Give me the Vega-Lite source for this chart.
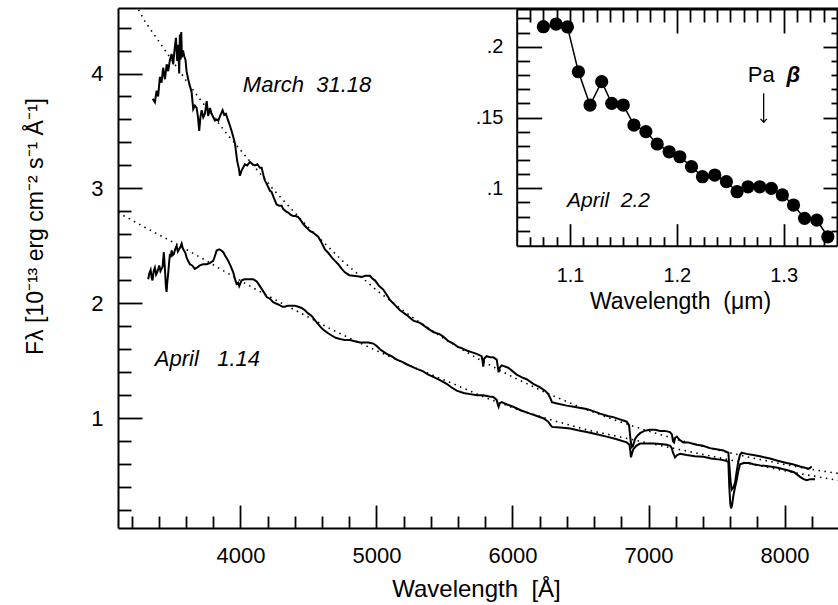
{
"$schema":"https://vega.github.io/schema/vega-lite/v6.json",
"width":720,"height":520,
"autosize":{"type":"none"},
"padding":{"left":118,"top":8,"right":0,"bottom":77},
"background":"white",
"config":{"view":{"stroke":null},"font":"Liberation Sans",
"axis":{"labelFont":"Liberation Sans","titleFont":"Liberation Sans","labelColor":"black","titleColor":"black","domainColor":"black","tickColor":"black","domainWidth":2,"tickWidth":1.8,"grid":false,"labelOverlap":false,"labelFlush":false},
"text":{"font":"Liberation Sans","color":"black"}},
"layer":[
{"data":{"values":[
{"s":"M","w":3355,"f":3.78},{"s":"M","w":3371,"f":3.75},{"s":"M","w":3384,"f":3.85},{"s":"M","w":3395,"f":3.80},{"s":"M","w":3408,"f":3.97},{"s":"M","w":3420,"f":3.92},{"s":"M","w":3432,"f":4.05},{"s":"M","w":3445,"f":3.95},{"s":"M","w":3458,"f":4.08},{"s":"M","w":3469,"f":4.02},{"s":"M","w":3482,"f":4.12},{"s":"M","w":3494,"f":4.17},{"s":"M","w":3506,"f":4.08},{"s":"M","w":3515,"f":4.20},{"s":"M","w":3526,"f":4.31},{"s":"M","w":3535,"f":4.11},{"s":"M","w":3542,"f":4.25},{"s":"M","w":3550,"f":4.00},{"s":"M","w":3555,"f":4.34},{"s":"M","w":3560,"f":4.12},{"s":"M","w":3565,"f":4.36},{"s":"M","w":3570,"f":4.14},{"s":"M","w":3578,"f":4.20},{"s":"M","w":3587,"f":4.15},{"s":"M","w":3596,"f":4.12},{"s":"M","w":3604,"f":4.02},{"s":"M","w":3616,"f":3.95},{"s":"M","w":3629,"f":3.89},{"s":"M","w":3641,"f":3.84},{"s":"M","w":3653,"f":3.69},{"s":"M","w":3665,"f":3.72},{"s":"M","w":3678,"f":3.70},{"s":"M","w":3688,"f":3.62},{"s":"M","w":3697,"f":3.50},{"s":"M","w":3706,"f":3.62},{"s":"M","w":3715,"f":3.68},{"s":"M","w":3727,"f":3.62},{"s":"M","w":3739,"f":3.65},{"s":"M","w":3752,"f":3.76},{"s":"M","w":3763,"f":3.63},{"s":"M","w":3776,"f":3.70},{"s":"M","w":3788,"f":3.65},{"s":"M","w":3800,"f":3.62},{"s":"M","w":3812,"f":3.59},{"s":"M","w":3825,"f":3.60},{"s":"M","w":3837,"f":3.59},{"s":"M","w":3850,"f":3.63},{"s":"M","w":3869,"f":3.68},{"s":"M","w":3881,"f":3.64},{"s":"M","w":3893,"f":3.65},{"s":"M","w":3910,"f":3.59},{"s":"M","w":3922,"f":3.55},{"s":"M","w":3935,"f":3.50},{"s":"M","w":3947,"f":3.45},{"s":"M","w":3960,"f":3.39},{"s":"M","w":3976,"f":3.24},{"s":"M","w":3989,"f":3.17},{"s":"M","w":3996,"f":3.11},{"s":"M","w":4010,"f":3.16},{"s":"M","w":4033,"f":3.21},{"s":"M","w":4050,"f":3.20},{"s":"M","w":4070,"f":3.23},{"s":"M","w":4090,"f":3.21},{"s":"M","w":4107,"f":3.20},{"s":"M","w":4125,"f":3.21},{"s":"M","w":4143,"f":3.18},{"s":"M","w":4156,"f":3.18},{"s":"M","w":4170,"f":3.11},{"s":"M","w":4180,"f":3.07},{"s":"M","w":4193,"f":3.04},{"s":"M","w":4217,"f":2.98},{"s":"M","w":4229,"f":2.97},{"s":"M","w":4245,"f":2.92},{"s":"M","w":4266,"f":2.86},{"s":"M","w":4285,"f":2.85},{"s":"M","w":4303,"f":2.85},{"s":"M","w":4315,"f":2.82},{"s":"M","w":4335,"f":2.80},{"s":"M","w":4351,"f":2.79},{"s":"M","w":4370,"f":2.77},{"s":"M","w":4388,"f":2.76},{"s":"M","w":4405,"f":2.76},{"s":"M","w":4425,"f":2.75},{"s":"M","w":4445,"f":2.72},{"s":"M","w":4462,"f":2.69},{"s":"M","w":4485,"f":2.66},{"s":"M","w":4511,"f":2.63},{"s":"M","w":4540,"f":2.61},{"s":"M","w":4572,"f":2.58},{"s":"M","w":4600,"f":2.52},{"s":"M","w":4621,"f":2.47},{"s":"M","w":4645,"f":2.44},{"s":"M","w":4671,"f":2.40},{"s":"M","w":4695,"f":2.37},{"s":"M","w":4719,"f":2.34},{"s":"M","w":4745,"f":2.30},{"s":"M","w":4768,"f":2.27},{"s":"M","w":4800,"f":2.245},{"s":"M","w":4829,"f":2.24},{"s":"M","w":4860,"f":2.235},{"s":"M","w":4891,"f":2.23},{"s":"M","w":4920,"f":2.24},{"s":"M","w":4952,"f":2.24},{"s":"M","w":4975,"f":2.21},{"s":"M","w":4989,"f":2.20},{"s":"M","w":5020,"f":2.15},{"s":"M","w":5050,"f":2.12},{"s":"M","w":5099,"f":2.03},{"s":"M","w":5140,"f":1.98},{"s":"M","w":5173,"f":1.94},{"s":"M","w":5220,"f":1.90},{"s":"M","w":5271,"f":1.85},{"s":"M","w":5320,"f":1.83},{"s":"M","w":5344,"f":1.81},{"s":"M","w":5380,"f":1.78},{"s":"M","w":5418,"f":1.75},{"s":"M","w":5467,"f":1.73},{"s":"M","w":5491,"f":1.71},{"s":"M","w":5530,"f":1.67},{"s":"M","w":5565,"f":1.65},{"s":"M","w":5600,"f":1.62},{"s":"M","w":5626,"f":1.61},{"s":"M","w":5663,"f":1.59},{"s":"M","w":5688,"f":1.58},{"s":"M","w":5737,"f":1.56},{"s":"M","w":5773,"f":1.54},{"s":"M","w":5780,"f":1.50},{"s":"M","w":5785,"f":1.45},{"s":"M","w":5792,"f":1.52},{"s":"M","w":5810,"f":1.54},{"s":"M","w":5840,"f":1.53},{"s":"M","w":5859,"f":1.53},{"s":"M","w":5884,"f":1.51},{"s":"M","w":5892,"f":1.45},{"s":"M","w":5898,"f":1.40},{"s":"M","w":5906,"f":1.44},{"s":"M","w":5921,"f":1.46},{"s":"M","w":5969,"f":1.44},{"s":"M","w":6031,"f":1.38},{"s":"M","w":6080,"f":1.35},{"s":"M","w":6104,"f":1.34},{"s":"M","w":6153,"f":1.30},{"s":"M","w":6200,"f":1.27},{"s":"M","w":6239,"f":1.24},{"s":"M","w":6263,"f":1.21},{"s":"M","w":6280,"f":1.17},{"s":"M","w":6290,"f":1.14},{"s":"M","w":6320,"f":1.13},{"s":"M","w":6398,"f":1.11},{"s":"M","w":6450,"f":1.10},{"s":"M","w":6500,"f":1.09},{"s":"M","w":6545,"f":1.08},{"s":"M","w":6600,"f":1.06},{"s":"M","w":6643,"f":1.04},{"s":"M","w":6700,"f":1.02},{"s":"M","w":6741,"f":1.01},{"s":"M","w":6790,"f":0.99},{"s":"M","w":6840,"f":0.97},{"s":"M","w":6857,"f":0.94},{"s":"M","w":6869,"f":0.80},{"s":"M","w":6877,"f":0.75},{"s":"M","w":6886,"f":0.76},{"s":"M","w":6901,"f":0.82},{"s":"M","w":6920,"f":0.85},{"s":"M","w":6938,"f":0.87},{"s":"M","w":6970,"f":0.89},{"s":"M","w":7011,"f":0.90},{"s":"M","w":7050,"f":0.90},{"s":"M","w":7085,"f":0.89},{"s":"M","w":7120,"f":0.89},{"s":"M","w":7158,"f":0.88},{"s":"M","w":7172,"f":0.86},{"s":"M","w":7180,"f":0.80},{"s":"M","w":7188,"f":0.79},{"s":"M","w":7196,"f":0.83},{"s":"M","w":7208,"f":0.84},{"s":"M","w":7230,"f":0.81},{"s":"M","w":7256,"f":0.79},{"s":"M","w":7290,"f":0.79},{"s":"M","w":7320,"f":0.78},{"s":"M","w":7355,"f":0.77},{"s":"M","w":7400,"f":0.76},{"s":"M","w":7452,"f":0.74},{"s":"M","w":7500,"f":0.73},{"s":"M","w":7550,"f":0.72},{"s":"M","w":7587,"f":0.70},{"s":"M","w":7595,"f":0.58},{"s":"M","w":7604,"f":0.44},{"s":"M","w":7612,"f":0.38},{"s":"M","w":7625,"f":0.40},{"s":"M","w":7636,"f":0.44},{"s":"M","w":7650,"f":0.55},{"s":"M","w":7660,"f":0.62},{"s":"M","w":7672,"f":0.68},{"s":"M","w":7685,"f":0.70},{"s":"M","w":7720,"f":0.69},{"s":"M","w":7770,"f":0.68},{"s":"M","w":7820,"f":0.67},{"s":"M","w":7850,"f":0.66},{"s":"M","w":7893,"f":0.65},{"s":"M","w":7950,"f":0.63},{"s":"M","w":8016,"f":0.61},{"s":"M","w":8060,"f":0.60},{"s":"M","w":8114,"f":0.58},{"s":"M","w":8150,"f":0.57},{"s":"M","w":8175,"f":0.56},{"s":"M","w":8190,"f":0.57},{"s":"M","w":8200,"f":0.58},
{"s":"A","w":3322,"f":2.21},{"s":"A","w":3330,"f":2.26},{"s":"A","w":3340,"f":2.29},{"s":"A","w":3348,"f":2.22},{"s":"A","w":3354,"f":2.20},{"s":"A","w":3362,"f":2.28},{"s":"A","w":3371,"f":2.31},{"s":"A","w":3380,"f":2.25},{"s":"A","w":3388,"f":2.27},{"s":"A","w":3396,"f":2.30},{"s":"A","w":3403,"f":2.33},{"s":"A","w":3412,"f":2.28},{"s":"A","w":3420,"f":2.30},{"s":"A","w":3428,"f":2.32},{"s":"A","w":3437,"f":2.445},{"s":"A","w":3442,"f":2.35},{"s":"A","w":3447,"f":2.26},{"s":"A","w":3452,"f":2.15},{"s":"A","w":3457,"f":2.10},{"s":"A","w":3462,"f":2.18},{"s":"A","w":3469,"f":2.26},{"s":"A","w":3476,"f":2.36},{"s":"A","w":3482,"f":2.43},{"s":"A","w":3488,"f":2.40},{"s":"A","w":3494,"f":2.46},{"s":"A","w":3502,"f":2.42},{"s":"A","w":3511,"f":2.43},{"s":"A","w":3520,"f":2.47},{"s":"A","w":3531,"f":2.50},{"s":"A","w":3540,"f":2.45},{"s":"A","w":3550,"f":2.47},{"s":"A","w":3558,"f":2.49},{"s":"A","w":3568,"f":2.52},{"s":"A","w":3576,"f":2.48},{"s":"A","w":3585,"f":2.46},{"s":"A","w":3595,"f":2.44},{"s":"A","w":3604,"f":2.40},{"s":"A","w":3615,"f":2.37},{"s":"A","w":3629,"f":2.34},{"s":"A","w":3645,"f":2.33},{"s":"A","w":3665,"f":2.30},{"s":"A","w":3680,"f":2.31},{"s":"A","w":3702,"f":2.33},{"s":"A","w":3725,"f":2.34},{"s":"A","w":3752,"f":2.34},{"s":"A","w":3775,"f":2.35},{"s":"A","w":3800,"f":2.37},{"s":"A","w":3812,"f":2.41},{"s":"A","w":3825,"f":2.46},{"s":"A","w":3844,"f":2.47},{"s":"A","w":3860,"f":2.46},{"s":"A","w":3874,"f":2.445},{"s":"A","w":3890,"f":2.41},{"s":"A","w":3910,"f":2.37},{"s":"A","w":3930,"f":2.32},{"s":"A","w":3947,"f":2.27},{"s":"A","w":3960,"f":2.21},{"s":"A","w":3972,"f":2.17},{"s":"A","w":3983,"f":2.18},{"s":"A","w":3991,"f":2.15},{"s":"A","w":4009,"f":2.20},{"s":"A","w":4030,"f":2.21},{"s":"A","w":4046,"f":2.21},{"s":"A","w":4070,"f":2.21},{"s":"A","w":4094,"f":2.21},{"s":"A","w":4120,"f":2.19},{"s":"A","w":4143,"f":2.15},{"s":"A","w":4170,"f":2.10},{"s":"A","w":4193,"f":2.055},{"s":"A","w":4217,"f":2.04},{"s":"A","w":4241,"f":2.01},{"s":"A","w":4278,"f":1.99},{"s":"A","w":4310,"f":1.97},{"s":"A","w":4327,"f":1.97},{"s":"A","w":4350,"f":1.98},{"s":"A","w":4376,"f":1.98},{"s":"A","w":4400,"f":1.98},{"s":"A","w":4425,"f":1.97},{"s":"A","w":4450,"f":1.96},{"s":"A","w":4474,"f":1.94},{"s":"A","w":4500,"f":1.91},{"s":"A","w":4524,"f":1.89},{"s":"A","w":4550,"f":1.85},{"s":"A","w":4572,"f":1.82},{"s":"A","w":4600,"f":1.78},{"s":"A","w":4621,"f":1.76},{"s":"A","w":4645,"f":1.74},{"s":"A","w":4671,"f":1.72},{"s":"A","w":4700,"f":1.70},{"s":"A","w":4732,"f":1.69},{"s":"A","w":4770,"f":1.68},{"s":"A","w":4805,"f":1.68},{"s":"A","w":4840,"f":1.67},{"s":"A","w":4879,"f":1.66},{"s":"A","w":4910,"f":1.66},{"s":"A","w":4940,"f":1.66},{"s":"A","w":4977,"f":1.65},{"s":"A","w":5000,"f":1.63},{"s":"A","w":5026,"f":1.60},{"s":"A","w":5050,"f":1.58},{"s":"A","w":5075,"f":1.56},{"s":"A","w":5110,"f":1.54},{"s":"A","w":5149,"f":1.51},{"s":"A","w":5190,"f":1.49},{"s":"A","w":5222,"f":1.47},{"s":"A","w":5260,"f":1.45},{"s":"A","w":5296,"f":1.43},{"s":"A","w":5340,"f":1.41},{"s":"A","w":5381,"f":1.38},{"s":"A","w":5418,"f":1.36},{"s":"A","w":5470,"f":1.33},{"s":"A","w":5516,"f":1.30},{"s":"A","w":5550,"f":1.27},{"s":"A","w":5590,"f":1.24},{"s":"A","w":5640,"f":1.22},{"s":"A","w":5688,"f":1.21},{"s":"A","w":5740,"f":1.20},{"s":"A","w":5785,"f":1.20},{"s":"A","w":5830,"f":1.19},{"s":"A","w":5859,"f":1.185},{"s":"A","w":5884,"f":1.16},{"s":"A","w":5892,"f":1.12},{"s":"A","w":5898,"f":1.10},{"s":"A","w":5906,"f":1.13},{"s":"A","w":5921,"f":1.14},{"s":"A","w":5960,"f":1.12},{"s":"A","w":6006,"f":1.10},{"s":"A","w":6060,"f":1.07},{"s":"A","w":6129,"f":1.04},{"s":"A","w":6180,"f":1.02},{"s":"A","w":6226,"f":1.00},{"s":"A","w":6263,"f":0.97},{"s":"A","w":6280,"f":0.94},{"s":"A","w":6290,"f":0.925},{"s":"A","w":6350,"f":0.92},{"s":"A","w":6423,"f":0.91},{"s":"A","w":6480,"f":0.895},{"s":"A","w":6545,"f":0.88},{"s":"A","w":6620,"f":0.86},{"s":"A","w":6692,"f":0.84},{"s":"A","w":6760,"f":0.82},{"s":"A","w":6840,"f":0.79},{"s":"A","w":6860,"f":0.77},{"s":"A","w":6866,"f":0.72},{"s":"A","w":6871,"f":0.66},{"s":"A","w":6880,"f":0.70},{"s":"A","w":6888,"f":0.73},{"s":"A","w":6910,"f":0.76},{"s":"A","w":6938,"f":0.78},{"s":"A","w":6990,"f":0.78},{"s":"A","w":7036,"f":0.78},{"s":"A","w":7090,"f":0.775},{"s":"A","w":7134,"f":0.77},{"s":"A","w":7160,"f":0.76},{"s":"A","w":7171,"f":0.74},{"s":"A","w":7180,"f":0.70},{"s":"A","w":7195,"f":0.66},{"s":"A","w":7210,"f":0.68},{"s":"A","w":7232,"f":0.69},{"s":"A","w":7281,"f":0.68},{"s":"A","w":7340,"f":0.67},{"s":"A","w":7403,"f":0.665},{"s":"A","w":7460,"f":0.65},{"s":"A","w":7526,"f":0.64},{"s":"A","w":7570,"f":0.63},{"s":"A","w":7587,"f":0.62},{"s":"A","w":7594,"f":0.40},{"s":"A","w":7601,"f":0.26},{"s":"A","w":7607,"f":0.215},{"s":"A","w":7615,"f":0.25},{"s":"A","w":7623,"f":0.32},{"s":"A","w":7636,"f":0.40},{"s":"A","w":7648,"f":0.46},{"s":"A","w":7660,"f":0.54},{"s":"A","w":7673,"f":0.60},{"s":"A","w":7700,"f":0.61},{"s":"A","w":7740,"f":0.61},{"s":"A","w":7771,"f":0.60},{"s":"A","w":7820,"f":0.59},{"s":"A","w":7893,"f":0.58},{"s":"A","w":7950,"f":0.57},{"s":"A","w":8016,"f":0.55},{"s":"A","w":8070,"f":0.53},{"s":"A","w":8114,"f":0.49},{"s":"A","w":8140,"f":0.47},{"s":"A","w":8163,"f":0.46},{"s":"A","w":8190,"f":0.47},{"s":"A","w":8224,"f":0.47}
]},
"mark":{"type":"line","color":"black","strokeWidth":2},
"encoding":{
"x":{"field":"w","type":"quantitative","scale":{"domain":[3100,8393],"nice":false,"zero":false},
"axis":{"orient":"bottom","values":[4000,5000,6000,7000,8000],"format":"d","tickSize":-23,"labelPadding":40,"labelFontSize":22,"title":"Wavelength\u00a0\u00a0[Å]","titleFontSize":24,"titleFontWeight":"normal","titleX":358,"titleY":68,"titleBaseline":"alphabetic","titleAlign":"center"}},
"y":{"field":"f","type":"quantitative","scale":{"domain":[0.045,4.57],"nice":false,"zero":false},
"axis":{"orient":"left","values":[1,2,3,4],"format":"d","tickSize":-24,"labelPadding":39,"labelFontSize":22,"title":"Fλ\u00a0[10⁻¹³\u00a0erg\u00a0cm⁻²\u00a0s⁻¹\u00a0Å⁻¹]","titleFontSize":23,"titleFontWeight":"normal","titleX":-83,"titleY":218,"titleAngle":-90,"titleAlign":"center","titleBaseline":"middle"}},
"detail":{"field":"s","type":"nominal"}}},
{"data":{"values":[
{"s":"M","w":3230,"f":4.60},{"s":"M","w":3300,"f":4.45},{"s":"M","w":3400,"f":4.28},{"s":"M","w":3500,"f":4.11},{"s":"M","w":3600,"f":3.94},{"s":"M","w":3700,"f":3.78},{"s":"M","w":3800,"f":3.63},{"s":"M","w":3900,"f":3.475},{"s":"M","w":4000,"f":3.335},{"s":"M","w":4250,"f":2.98},{"s":"M","w":4500,"f":2.66},{"s":"M","w":4750,"f":2.37},{"s":"M","w":5000,"f":2.115},{"s":"M","w":5250,"f":1.89},{"s":"M","w":5500,"f":1.69},{"s":"M","w":5750,"f":1.515},{"s":"M","w":6000,"f":1.36},{"s":"M","w":6250,"f":1.22},{"s":"M","w":6500,"f":1.095},{"s":"M","w":6750,"f":0.985},{"s":"M","w":7000,"f":0.888},{"s":"M","w":7250,"f":0.802},{"s":"M","w":7500,"f":0.726},{"s":"M","w":7750,"f":0.658},{"s":"M","w":8000,"f":0.598},{"s":"M","w":8200,"f":0.555},{"s":"M","w":8393,"f":0.52},
{"s":"A","w":3101,"f":2.79},{"s":"A","w":3300,"f":2.66},{"s":"A","w":3555,"f":2.50},{"s":"A","w":3750,"f":2.37},{"s":"A","w":3923,"f":2.25},{"s":"A","w":4100,"f":2.13},{"s":"A","w":4290,"f":2.01},{"s":"A","w":4500,"f":1.88},{"s":"A","w":4658,"f":1.78},{"s":"A","w":4850,"f":1.67},{"s":"A","w":5026,"f":1.575},{"s":"A","w":5300,"f":1.43},{"s":"A","w":5565,"f":1.30},{"s":"A","w":5800,"f":1.18},{"s":"A","w":6055,"f":1.07},{"s":"A","w":6300,"f":0.98},{"s":"A","w":6545,"f":0.90},{"s":"A","w":6800,"f":0.835},{"s":"A","w":7036,"f":0.775},{"s":"A","w":7300,"f":0.71},{"s":"A","w":7526,"f":0.655},{"s":"A","w":7800,"f":0.59},{"s":"A","w":8100,"f":0.52},{"s":"A","w":8393,"f":0.46}
]},
"mark":{"type":"line","color":"black","strokeWidth":1.6,"strokeDash":[1.5,4.5],"clip":true},
"encoding":{
"x":{"field":"w","type":"quantitative","scale":{"domain":[3100,8393],"nice":false,"zero":false},
"axis":{"orient":"bottom","values":[3200,3400,3600,3800,4200,4400,4600,4800,5200,5400,5600,5800,6200,6400,6600,6800,7200,7400,7600,7800,8200],"tickSize":-12,"labels":false,"domain":false,"title":null}},
"y":{"field":"f","type":"quantitative","scale":{"domain":[0.045,4.57],"nice":false,"zero":false},
"axis":{"orient":"left","values":[0.2,0.4,0.6,0.8,1.2,1.4,1.6,1.8,2.2,2.4,2.6,2.8,3.2,3.4,3.6,3.8,4.2,4.4],"tickSize":-13,"labels":false,"domain":false,"title":null}},
"detail":{"field":"s","type":"nominal"}}},
{"data":{"values":[{"t":"March\u00a0\u00a031.18","w":4018,"f":3.835},{"t":"April\u00a0\u00a0\u00a01.14","w":3371,"f":1.455}]},
"mark":{"type":"text","fontSize":22,"fontStyle":"italic","align":"left","baseline":"alphabetic"},
"encoding":{
"x":{"field":"w","type":"quantitative","scale":{"domain":[3100,8393],"nice":false,"zero":false},
"axis":{"orient":"top","ticks":false,"labels":false,"domain":true,"title":null}},
"y":{"field":"f","type":"quantitative","scale":{"domain":[0.045,4.57],"nice":false,"zero":false},"axis":null},
"text":{"field":"t"}}},
{"data":{"values":[
{"mu":1.075,"v":0.2141},{"mu":1.0869,"v":0.216},{"mu":1.0975,"v":0.214},{"mu":1.1078,"v":0.1823},{"mu":1.1187,"v":0.1588},{"mu":1.1296,"v":0.1753},{"mu":1.139,"v":0.160},{"mu":1.1498,"v":0.1588},{"mu":1.1598,"v":0.1447},{"mu":1.171,"v":0.140},{"mu":1.1816,"v":0.1313},{"mu":1.1928,"v":0.1258},{"mu":1.2028,"v":0.1223},{"mu":1.2137,"v":0.1153},{"mu":1.224,"v":0.1082},{"mu":1.2355,"v":0.1094},{"mu":1.2464,"v":0.1047},{"mu":1.2564,"v":0.0976},{"mu":1.2666,"v":0.1011},{"mu":1.2776,"v":0.1011},{"mu":1.2885,"v":0.100},{"mu":1.2988,"v":0.0953},{"mu":1.3093,"v":0.0882},{"mu":1.3196,"v":0.0788},{"mu":1.3311,"v":0.0776},{"mu":1.3414,"v":0.0658}
]},
"mark":{"type":"line","color":"black","strokeWidth":1.5,"point":{"filled":true,"size":175,"color":"black","opacity":1}},
"encoding":{
"x":{"field":"mu","type":"quantitative","scale":{"domain":[1.05,1.35],"range":[398.7,719],"nice":false,"zero":false},
"axis":{"orient":"bottom","offset":-282.3,"values":[1.1,1.2,1.3],"format":".1f","tickSize":-22,"labelPadding":42,"labelFontSize":20,"title":"Wavelength\u00a0\u00a0(μm)","titleFontSize":23,"titleFontWeight":"normal","titleX":562,"titleY":62.3,"titleBaseline":"alphabetic","titleAlign":"center"}},
"y":{"field":"v","type":"quantitative","scale":{"domain":[0.0595,0.2266],"range":[237.7,1],"nice":false,"zero":false},
"axis":{"orient":"left","offset":-398.7,"values":[0.1,0.15,0.2],"labelExpr":"replace(format(datum.value,'.2~f'),'0.','.')","tickSize":-25,"labelPadding":38.7,"labelFontSize":20,"title":null}}}},
{"data":{"values":[{"t":"April\u00a0\u00a02.2","mu":1.0972,"v":0.087}]},
"mark":{"type":"text","fontSize":21,"fontStyle":"italic","align":"left","baseline":"alphabetic"},
"encoding":{
"x":{"field":"mu","type":"quantitative","scale":{"domain":[1.05,1.35],"range":[398.7,719],"nice":false,"zero":false},
"axis":{"orient":"bottom","offset":-282.3,"values":[1.0625,1.075,1.0875,1.1125,1.125,1.1375,1.15,1.1625,1.175,1.1875,1.2125,1.225,1.2375,1.25,1.2625,1.275,1.2875,1.3125,1.325,1.3375],"tickSize":-9,"labels":false,"domain":false,"title":null}},
"y":{"field":"v","type":"quantitative","scale":{"domain":[0.0595,0.2266],"range":[237.7,1],"nice":false,"zero":false},
"axis":{"orient":"left","offset":-398.7,"values":[0.07,0.08,0.09,0.11,0.12,0.13,0.14,0.16,0.17,0.18,0.19,0.21,0.22],"tickSize":-13,"labels":false,"domain":false,"title":null}},
"text":{"field":"t"}}},
{"data":{"values":[{"t":"Pa","mu":1.2664,"v":0.1753}]},
"mark":{"type":"text","fontSize":22,"align":"left","baseline":"alphabetic"},
"encoding":{
"x":{"field":"mu","type":"quantitative","scale":{"domain":[1.05,1.35],"range":[398.7,719],"nice":false,"zero":false},
"axis":{"orient":"top","offset":-1,"values":[1.1,1.2,1.3],"tickSize":-24,"labels":false,"domain":true,"title":null}},
"y":{"field":"v","type":"quantitative","scale":{"domain":[0.0595,0.2266],"range":[237.7,1],"nice":false,"zero":false},
"axis":{"orient":"right","offset":-1,"values":[0.1,0.15,0.2],"tickSize":-14,"labels":false,"domain":true,"title":null}},
"text":{"field":"t"}}},
{"data":{"values":[{"t":"β","mu":1.3028,"v":0.1753}]},
"mark":{"type":"text","fontSize":22,"fontStyle":"italic","fontWeight":"bold","align":"left","baseline":"alphabetic"},
"encoding":{
"x":{"field":"mu","type":"quantitative","scale":{"domain":[1.05,1.35],"range":[398.7,719],"nice":false,"zero":false},
"axis":{"orient":"top","offset":-1,"values":[1.0625,1.075,1.0875,1.1125,1.125,1.1375,1.15,1.1625,1.175,1.1875,1.2125,1.225,1.2375,1.25,1.2625,1.275,1.2875,1.3125,1.325,1.3375],"tickSize":-13,"labels":false,"domain":false,"title":null}},
"y":{"field":"v","type":"quantitative","scale":{"domain":[0.0595,0.2266],"range":[237.7,1],"nice":false,"zero":false},
"axis":{"orient":"right","offset":-1,"values":[0.07,0.08,0.09,0.11,0.12,0.13,0.14,0.16,0.17,0.18,0.19,0.21,0.22],"tickSize":-6,"labels":false,"domain":false,"title":null}},
"text":{"field":"t"}}},
{"data":{"values":[{"mu":1.2813,"v1":0.1672,"v2":0.1466}]},
"mark":{"type":"rule","color":"black","strokeWidth":1.3},
"encoding":{
"x":{"field":"mu","type":"quantitative","scale":{"domain":[1.05,1.35],"range":[398.7,719],"nice":false,"zero":false},"axis":null},
"y":{"field":"v1","type":"quantitative","scale":{"domain":[0.0595,0.2266],"range":[237.7,1],"nice":false,"zero":false},"axis":null},
"y2":{"field":"v2"}}},
{"data":{"values":[{"mu":1.2813,"v":0.1466}]},
"mark":{"type":"point","shape":"M-0.9,-1L0,0L0.9,-1","filled":false,"size":49,"color":"black","strokeWidth":1.3,"opacity":1},
"encoding":{
"x":{"field":"mu","type":"quantitative","scale":{"domain":[1.05,1.35],"range":[398.7,719],"nice":false,"zero":false},"axis":null},
"y":{"field":"v","type":"quantitative","scale":{"domain":[0.0595,0.2266],"range":[237.7,1],"nice":false,"zero":false},"axis":null}}}
],
"resolve":{"scale":{"x":"independent","y":"independent"},"axis":{"x":"independent","y":"independent"}}
}
